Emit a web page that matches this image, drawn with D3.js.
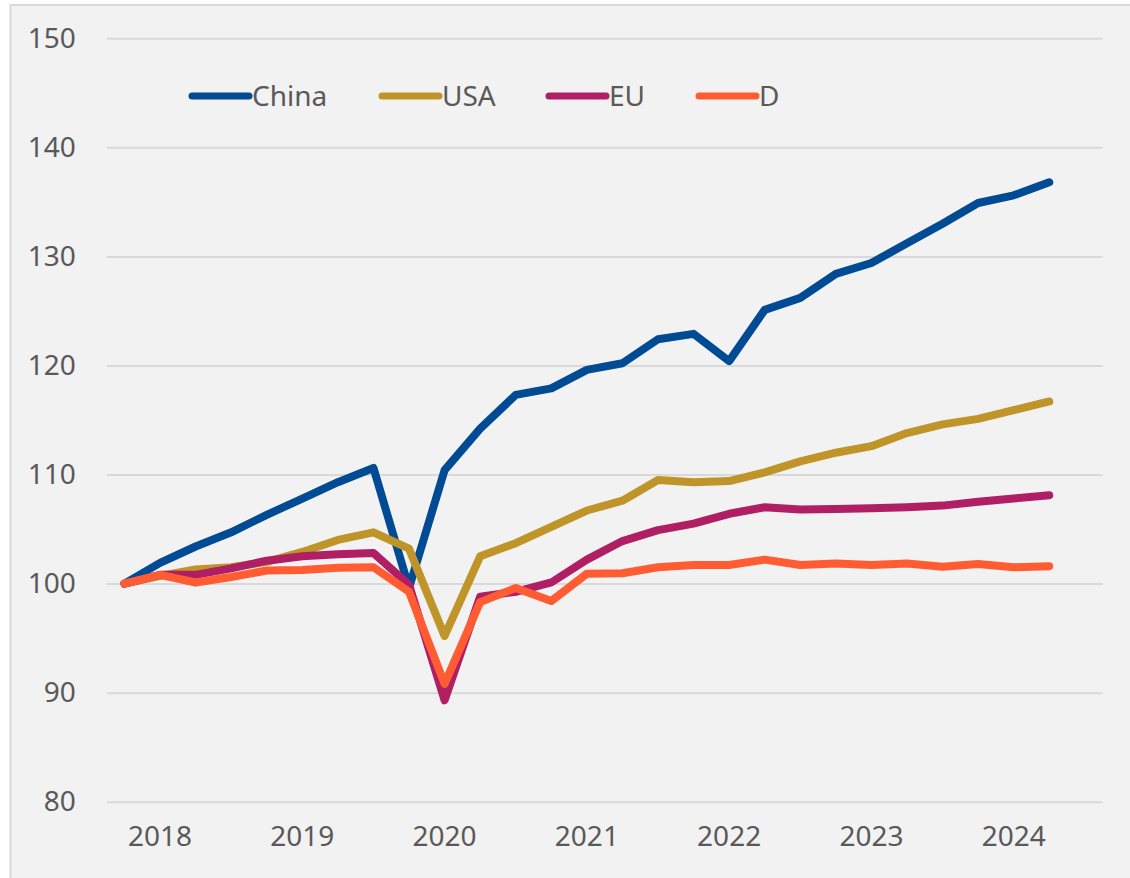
<!DOCTYPE html>
<html>
<head>
<meta charset="utf-8">
<script src="https://cdn.jsdelivr.net/npm/d3@7"></script>
<style>
  html, body { margin: 0; padding: 0; background: #ffffff; }
  svg { display: block; }
  text { font-family: "Noto Sans", "Open Sans", sans-serif; fill: #595959; }
</style>
</head>
<body>
<svg id="chart" width="1130" height="878"></svg>
<script>
// ---- data ----
const quarters = [
  "2018Q1","2018Q2","2018Q3","2018Q4",
  "2019Q1","2019Q2","2019Q3","2019Q4",
  "2020Q1","2020Q2","2020Q3","2020Q4",
  "2021Q1","2021Q2","2021Q3","2021Q4",
  "2022Q1","2022Q2","2022Q3","2022Q4",
  "2023Q1","2023Q2","2023Q3","2023Q4",
  "2024Q1","2024Q2","2024Q3","2024Q4"
];
const yearTicks = ["2018Q2","2019Q2","2020Q2","2021Q2","2022Q2","2023Q2","2024Q2"];
const yearLabels = ["2018","2019","2020","2021","2022","2023","2024"];
const yTicks = [80, 90, 100, 110, 120, 130, 140, 150];

const china = [100, 101.9, 103.4, 104.7, 106.3, 107.8, 109.3, 110.6, 99.6,
  110.4, 114.2, 117.3, 117.9, 119.6, 120.2, 122.4, 122.9, 120.4,
  125.1, 126.2, 128.4, 129.4, 131.2, 133.0, 134.9, 135.6, 136.8];
const usa = [100, 100.7, 101.3, 101.5, 102.0, 102.9, 104.0, 104.7, 103.2,
  95.2, 102.5, 103.7, 105.2, 106.7, 107.6, 109.5, 109.3, 109.4,
  110.2, 111.2, 112.0, 112.6, 113.8, 114.6, 115.1, 115.9, 116.7];
const eu = [100, 100.8, 100.8, 101.4, 102.1, 102.5, 102.7, 102.8, 99.9,
  89.3, 98.8, 99.25, 100.1, 102.2, 103.9, 104.9, 105.5, 106.4,
  107.0, 106.8, 106.85, 106.9, 107.0, 107.15, 107.5, 107.8, 108.1];
const de = [100, 100.8, 100.1, 100.6, 101.2, 101.25, 101.45, 101.5, 99.25,
  90.8, 98.3, 99.6, 98.4, 100.9, 100.95, 101.5, 101.7, 101.7,
  102.2, 101.7, 101.85, 101.7, 101.85, 101.55, 101.8, 101.5, 101.6];

const seriesNames = ["China", "USA", "EU", "D"];
const seriesColors = ["#004B93", "#BF952A", "#B01E63", "#FF5C33"];
const seriesValues = [china, usa, eu, de];

// ---- layout ----
const svg = d3.select("#chart");
const plotL = 106.7, plotR = 1102.6, plotT = 38.3, plotB = 801.7;

svg.append("rect")
  .attr("x", 10.5).attr("y", 5).attr("width", 1130).attr("height", 890)
  .attr("fill", "#f2f2f2").attr("stroke", "#d9d9d9").attr("stroke-width", 2);

const x = d3.scaleBand().domain(quarters).range([plotL, plotR]).padding(0);
const y = d3.scaleLinear().domain([80, 150]).range([plotB, plotT]);
const cx = q => x(q) + x.bandwidth() / 2;

// gridlines + y labels
const yAxis = d3.axisLeft(y).tickValues(yTicks).tickSize(-(plotR - plotL)).tickPadding(31);
const gy = svg.append("g").attr("transform", `translate(${plotL},0)`).call(yAxis);
gy.select(".domain").remove();
gy.selectAll(".tick line").attr("stroke", "#d9d9d9").attr("stroke-width", 2);
gy.selectAll(".tick text")
  .attr("font-size", 28).attr("fill", "#595959")
  .style("font-family", '"Noto Sans", sans-serif');

// x labels
const xAxis = d3.axisBottom(x).tickValues(yearTicks)
  .tickFormat(q => yearLabels[yearTicks.indexOf(q)]).tickSize(0).tickPadding(24);
const gx = svg.append("g").attr("transform", `translate(0,${plotB})`).call(xAxis);
gx.select(".domain").remove();
gx.selectAll(".tick text")
  .attr("font-size", 28).attr("fill", "#595959")
  .style("font-family", '"Noto Sans", sans-serif');

// lines
const line = d3.line()
  .x((d, i) => cx(quarters[i]))
  .y(d => y(d));

seriesValues.forEach((vals, k) => {
  svg.append("path")
    .datum(vals)
    .attr("d", line)
    .attr("fill", "none")
    .attr("stroke", seriesColors[k])
    .attr("stroke-width", 8)
    .attr("stroke-linejoin", "round")
    .attr("stroke-linecap", "round");
});

// legend
const legendX = [192, 382, 549, 699];
const lg = svg.append("g");
seriesNames.forEach((name, k) => {
  lg.append("line")
    .attr("x1", legendX[k]).attr("x2", legendX[k] + 57)
    .attr("y1", 96).attr("y2", 96)
    .attr("stroke", seriesColors[k]).attr("stroke-width", 7)
    .attr("stroke-linecap", "round");
  lg.append("text")
    .attr("x", legendX[k] + 60).attr("y", 96)
    .attr("dy", "0.35em")
    .attr("font-size", 28)
    .text(name);
});
</script>
</body>
</html>
